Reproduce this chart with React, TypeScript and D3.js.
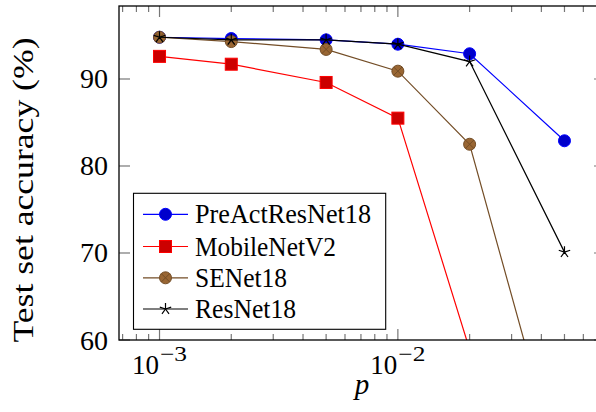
import React from "react";
import * as d3 from "d3";

const pValues = [0.001, 0.002, 0.005, 0.01, 0.02, 0.05];
const preActResNet18 = [94.8, 94.65, 94.5, 94.0, 92.9, 82.9];
const mobileNetV2 = [92.6, 91.7, 89.6, 85.5, 58.9];
const seNet18 = [94.8, 94.3, 93.4, 90.9, 82.5, 43.2];
const resNet18 = [94.8, 94.5, 94.5, 94.0, 92.0, 70.1];
const seriesNames = ["PreActResNet18", "MobileNetV2", "SENet18", "ResNet18"];
const yTickValues = [60, 70, 80, 90];
const xMajorExps = [-3, -2];

const W = 596;
const H = 412;
const left = 119, right = 605, top = 6, bottom = 340;

const FONT = "'Liberation Serif', 'DejaVu Serif', serif";

type Series = { name: string; values: number[]; stroke: string; fill: string; mark: string };

const series: Series[] = [
  { name: seriesNames[0], values: preActResNet18, stroke: "#0000ff", fill: "#0000cc", mark: "circle" },
  { name: seriesNames[1], values: mobileNetV2, stroke: "#ff0000", fill: "#cc0000", mark: "square" },
  { name: seriesNames[2], values: seNet18, stroke: "#734d26", fill: "#996633", mark: "otimes" },
  { name: seriesNames[3], values: resNet18, stroke: "#000000", fill: "none", mark: "star" },
];

const legendTextLen = [176, 141, 92, 101];

function Marker({ x, y, s }: { x: number; y: number; s: Series }) {
  const r = 6;
  if (s.mark === "circle") {
    return <circle cx={x} cy={y} r={r} fill={s.fill} stroke={s.stroke} strokeWidth={1} />;
  }
  if (s.mark === "square") {
    return <rect x={x - r} y={y - r} width={2 * r} height={2 * r} fill={s.fill} stroke={s.stroke} strokeWidth={1} />;
  }
  if (s.mark === "otimes") {
    const d = r * 0.7071;
    return (
      <g>
        <circle cx={x} cy={y} r={r} fill={s.fill} stroke={s.stroke} strokeWidth={1} />
        <path d={`M${x - d},${y - d}L${x + d},${y + d}M${x - d},${y + d}L${x + d},${y - d}`} stroke={s.stroke} strokeWidth={1} />
      </g>
    );
  }
  const rs = 6;
  let p = "";
  for (let i = 0; i < 5; i++) {
    const a = (-90 + i * 72) * Math.PI / 180;
    p += `M${x},${y}L${x + rs * Math.cos(a)},${y + rs * Math.sin(a)}`;
  }
  return <path d={p} stroke={s.stroke} strokeWidth={1.2} fill="none" />;
}

export default function App() {
  const x = d3.scaleLog().domain([Math.pow(10, -3.17), Math.pow(10, -1.131)]).range([left, right]);
  const y = d3.scaleLinear().domain([60, 98.39]).range([bottom, top]);

  const minor = x.ticks(30).filter((t) => {
    const e = Math.log10(t);
    return Math.abs(e - Math.round(e)) > 1e-6;
  });

  const line = d3
    .line<number>()
    .x((_, i) => x(pValues[i]))
    .y((v) => y(v));

  const legendY = [214.3, 246.5, 277.8, 309];

  return (
    <svg width={W} height={H} style={{ position: "absolute", left: 0, top: 0, background: "#fff" }} fontFamily={FONT}>
      <defs>
        <clipPath id="plotclip">
          <rect x={left} y={top} width={right - left} height={bottom - top} />
        </clipPath>
      </defs>
      <rect x={0} y={0} width={W} height={H} fill="#fff" />

      {minor.map((t) => (
        <g key={"m" + t}>
          <line x1={x(t)} x2={x(t)} y1={bottom} y2={bottom - 6} stroke="#777" strokeWidth={1.2} />
          <line x1={x(t)} x2={x(t)} y1={top} y2={top + 6} stroke="#777" strokeWidth={1.2} />
        </g>
      ))}
      {xMajorExps.map((e) => {
        const xv = x(Math.pow(10, e));
        return (
          <g key={"M" + e}>
            <line x1={xv} x2={xv} y1={bottom} y2={bottom - 11} stroke="#777" strokeWidth={1.2} />
            <line x1={xv} x2={xv} y1={top} y2={top + 11} stroke="#777" strokeWidth={1.2} />
            <text x={xv - 0.5} y={374} fontSize={28} textAnchor="end" textLength={27} lengthAdjust="spacingAndGlyphs">10</text>
            <text x={xv + 0.5} y={361} fontSize={21} textLength={27} lengthAdjust="spacingAndGlyphs">−{-e}</text>
          </g>
        );
      })}
      {yTickValues.map((v) => (
        <g key={"y" + v}>
          <line x1={left} x2={left + 11} y1={y(v)} y2={y(v)} stroke="#777" strokeWidth={1.2} />
          <line x1={right} x2={right - 11} y1={y(v)} y2={y(v)} stroke="#777" strokeWidth={1.2} />
          <text x={108} y={y(v) + 9.5} fontSize={28} textAnchor="end" textLength={28} lengthAdjust="spacingAndGlyphs">{v}</text>
        </g>
      ))}

      <g clipPath="url(#plotclip)">
        {series.map((s) => (
          <g key={s.name}>
            <path d={line(s.values) || ""} fill="none" stroke={s.stroke} strokeWidth={1.2} />
            {s.values.map((v, i) => (
              <Marker key={i} x={x(pValues[i])} y={y(v)} s={s} />
            ))}
          </g>
        ))}
      </g>

      <rect x={left} y={top} width={right - left} height={bottom - top} fill="none" stroke="#000" strokeWidth={1.3} />

      <rect x={133.5} y={193.3} width={252.2} height={136} fill="#fff" stroke="#000" strokeWidth={1.1} />
      {series.map((s, i) => (
        <g key={"l" + s.name}>
          <line x1={143} x2={188} y1={legendY[i]} y2={legendY[i]} stroke={s.stroke} strokeWidth={1.2} />
          <Marker x={165.5} y={legendY[i]} s={s} />
          <text x={195} y={legendY[i] + 9} fontSize={27} textLength={legendTextLen[i]} lengthAdjust="spacingAndGlyphs">{s.name}</text>
        </g>
      ))}

      <text x={362} y={394} fontSize={29} fontStyle="italic" textAnchor="middle">p</text>
      <text
        transform="translate(33,190) rotate(-90)"
        fontSize={30}
        textAnchor="middle"
        textLength={305}
        lengthAdjust="spacingAndGlyphs"
      >
        Test set accuracy (%)
      </text>
    </svg>
  );
}
